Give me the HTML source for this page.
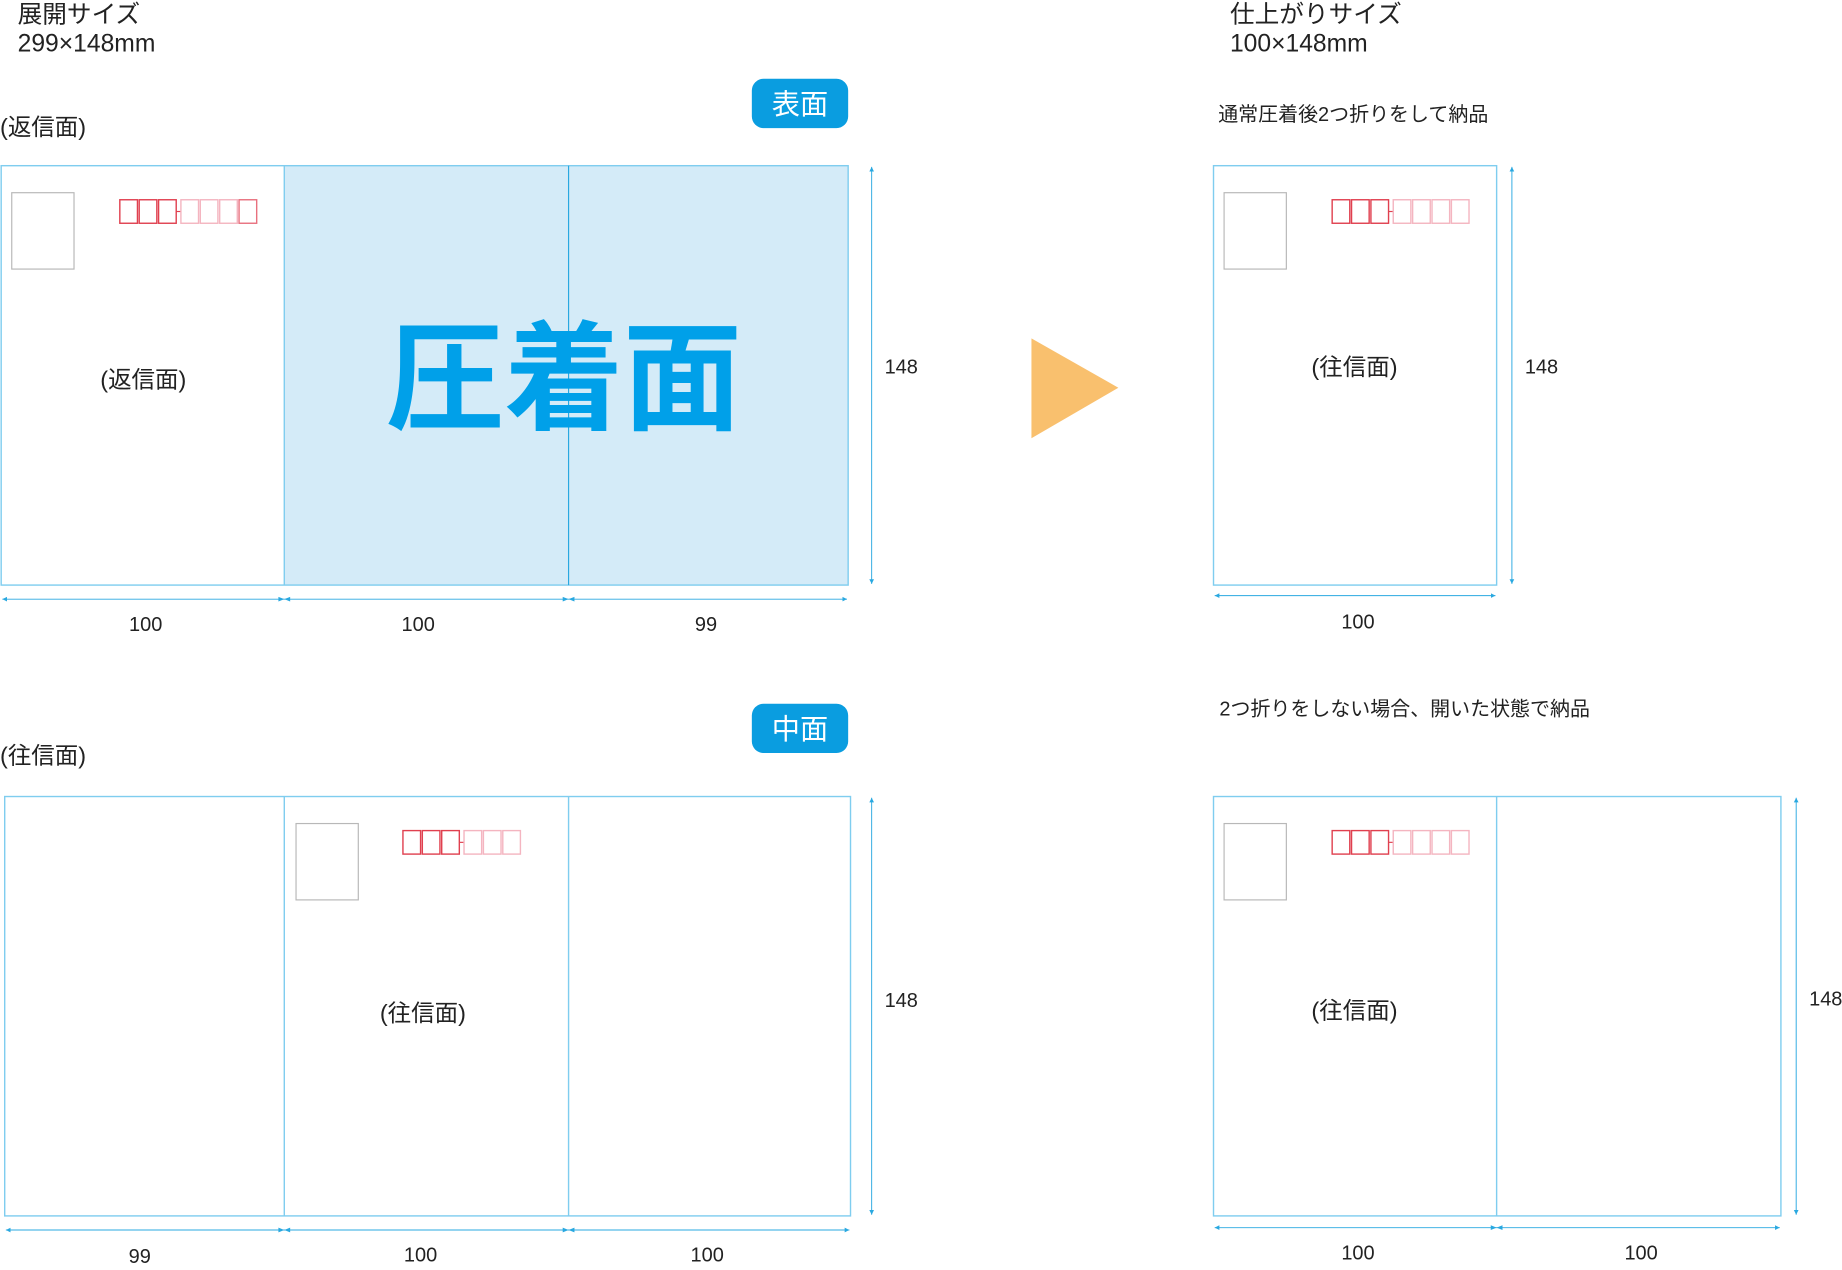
<!DOCTYPE html>
<html><head><meta charset="utf-8"><style>
html,body{margin:0;padding:0;background:#fff;}
svg{display:block;}
text{font-family:"Liberation Sans","Noto Sans CJK JP",sans-serif;}
</style></head><body>
<svg width="1842" height="1270" viewBox="0 0 1568 1081" xmlns="http://www.w3.org/2000/svg">
<defs>
<g id="pr3">
 <rect x="0" y="0" width="15" height="20" fill="none" stroke="#e0404f" stroke-width="1.2"/>
 <rect x="16.5" y="0" width="15" height="20" fill="none" stroke="#e0404f" stroke-width="1.2"/>
 <rect x="33" y="0" width="15" height="20" fill="none" stroke="#e0404f" stroke-width="1.2"/>
 <line x1="48" y1="10" x2="52" y2="10" stroke="#e0404f" stroke-width="1"/>
</g>
<g id="stamp"><rect x="0" y="0" width="53" height="65" fill="none" stroke="#b8b8b8" stroke-width="1"/></g>
<marker id="ah" markerWidth="6" markerHeight="6" refX="5" refY="3" orient="auto-start-reverse"><path d="M0,0.5 L5,3 L0,5.5z" fill="#29a8e0"/></marker>
</defs>
<style>
.ln{stroke:#7fcdef;stroke-width:1.2;fill:none}
.dim{stroke:#29a8e0;stroke-width:0.8;fill:none}
.pk{fill:none;stroke:#f4b5c0;stroke-width:1.2}
</style>

<text x="15" y="19" font-size="21" fill="#222">展開サイズ</text>
<text x="15" y="44" font-size="21" fill="#222">299×148mm</text>
<text x="1047" y="19" font-size="21" fill="#222">仕上がりサイズ</text>
<text x="1047" y="44" font-size="21" fill="#222">100×148mm</text>

<text x="0" y="115" font-size="20" fill="#222">(返信面)</text>
<rect x="640" y="67" width="82" height="42" rx="10" fill="#0a9de0"/>
<text x="681" y="97" font-size="24" fill="#fff" text-anchor="middle">表面</text>
<rect x="242" y="141" width="480" height="357" fill="#d4ebf8"/>
<rect x="1" y="141" width="721" height="357" class="ln"/>
<line x1="242" y1="141" x2="242" y2="498" class="ln"/>
<line x1="484" y1="141" x2="484" y2="498" stroke="#29a8e0" stroke-width="1"/>
<use href="#stamp" x="10" y="164"/>
<use href="#pr3" x="102" y="170"/>
<rect x="154" y="170" width="15" height="20" class="pk"/>
<rect x="170.5" y="170" width="15" height="20" class="pk"/>
<rect x="187" y="170" width="15" height="20" class="pk"/>
<rect x="203.5" y="170" width="15" height="20" fill="none" stroke="#e8707e" stroke-width="1.2"/>
<text x="122" y="330" font-size="20" fill="#222" text-anchor="middle">(返信面)</text>
<text x="480" y="358" font-size="101" font-weight="bold" fill="#00a0e9" text-anchor="middle">圧着面</text>
<line x1="742" y1="142" x2="742" y2="497" class="dim" marker-start="url(#ah)" marker-end="url(#ah)"/>
<text x="753" y="318" font-size="17" fill="#222">148</text>
<line x1="2" y1="510" x2="721" y2="510" class="dim" marker-start="url(#ah)" marker-end="url(#ah)"/>
<path d="M237,508 L242,510 L237,512z M247,508 L242,510 L247,512z M479,508 L484,510 L479,512z M489,508 L484,510 L489,512z" fill="#29a8e0"/>
<text x="124" y="537" font-size="17" fill="#222" text-anchor="middle">100</text>
<text x="356" y="537" font-size="17" fill="#222" text-anchor="middle">100</text>
<text x="601" y="537" font-size="17" fill="#222" text-anchor="middle">99</text>

<polygon points="878,288 952,330 878,373" fill="#f9c06e"/>

<text x="1037" y="103" font-size="17" fill="#222">通常圧着後2つ折りをして納品</text>
<rect x="1033" y="141" width="241" height="357" class="ln"/>
<use href="#stamp" x="1042" y="164"/>
<use href="#pr3" x="1134" y="170"/>
<rect x="1186" y="170" width="15" height="20" class="pk"/>
<rect x="1202.5" y="170" width="15" height="20" class="pk"/>
<rect x="1219" y="170" width="15" height="20" class="pk"/>
<rect x="1235.5" y="170" width="15" height="20" class="pk"/>
<text x="1153" y="319" font-size="20" fill="#222" text-anchor="middle">(往信面)</text>
<line x1="1287" y1="142" x2="1287" y2="497" class="dim" marker-start="url(#ah)" marker-end="url(#ah)"/>
<text x="1298" y="318" font-size="17" fill="#222">148</text>
<line x1="1034" y1="507" x2="1273" y2="507" class="dim" marker-start="url(#ah)" marker-end="url(#ah)"/>
<text x="1156" y="535" font-size="17" fill="#222" text-anchor="middle">100</text>

<text x="0" y="650" font-size="20" fill="#222">(往信面)</text>
<rect x="640" y="599" width="82" height="42" rx="10" fill="#0a9de0"/>
<text x="681" y="629" font-size="24" fill="#fff" text-anchor="middle">中面</text>
<rect x="4" y="678" width="720" height="357" class="ln"/>
<line x1="242" y1="678" x2="242" y2="1035" class="ln"/>
<line x1="484" y1="678" x2="484" y2="1035" class="ln"/>
<use href="#stamp" x="252" y="701"/>
<use href="#pr3" x="343" y="707"/>
<rect x="395" y="707" width="15" height="20" class="pk"/>
<rect x="411.5" y="707" width="15" height="20" class="pk"/>
<rect x="428" y="707" width="15" height="20" class="pk"/>
<text x="360" y="869" font-size="20" fill="#222" text-anchor="middle">(往信面)</text>
<line x1="742" y1="679" x2="742" y2="1034" class="dim" marker-start="url(#ah)" marker-end="url(#ah)"/>
<text x="753" y="857" font-size="17" fill="#222">148</text>
<line x1="5" y1="1047" x2="723" y2="1047" class="dim" marker-start="url(#ah)" marker-end="url(#ah)"/>
<path d="M237,1045 L242,1047 L237,1049z M247,1045 L242,1047 L247,1049z M479,1045 L484,1047 L479,1049z M489,1045 L484,1047 L489,1049z" fill="#29a8e0"/>
<text x="119" y="1075" font-size="17" fill="#222" text-anchor="middle">99</text>
<text x="358" y="1074" font-size="17" fill="#222" text-anchor="middle">100</text>
<text x="602" y="1074" font-size="17" fill="#222" text-anchor="middle">100</text>

<text x="1038" y="609" font-size="17" fill="#222">2つ折りをしない場合、開いた状態で納品</text>
<rect x="1033" y="678" width="483" height="357" class="ln"/>
<line x1="1274" y1="678" x2="1274" y2="1035" class="ln"/>
<use href="#stamp" x="1042" y="701"/>
<use href="#pr3" x="1134" y="707"/>
<rect x="1186" y="707" width="15" height="20" class="pk"/>
<rect x="1202.5" y="707" width="15" height="20" class="pk"/>
<rect x="1219" y="707" width="15" height="20" class="pk"/>
<rect x="1235.5" y="707" width="15" height="20" class="pk"/>
<text x="1153" y="867" font-size="20" fill="#222" text-anchor="middle">(往信面)</text>
<line x1="1529" y1="679" x2="1529" y2="1034" class="dim" marker-start="url(#ah)" marker-end="url(#ah)"/>
<text x="1540" y="856" font-size="17" fill="#222">148</text>
<line x1="1034" y1="1045" x2="1515" y2="1045" class="dim" marker-start="url(#ah)" marker-end="url(#ah)"/>
<path d="M1269,1043 L1274,1045 L1269,1047z M1279,1043 L1274,1045 L1279,1047z" fill="#29a8e0"/>
<text x="1156" y="1072" font-size="17" fill="#222" text-anchor="middle">100</text>
<text x="1397" y="1072" font-size="17" fill="#222" text-anchor="middle">100</text>
</svg>
</body></html>
